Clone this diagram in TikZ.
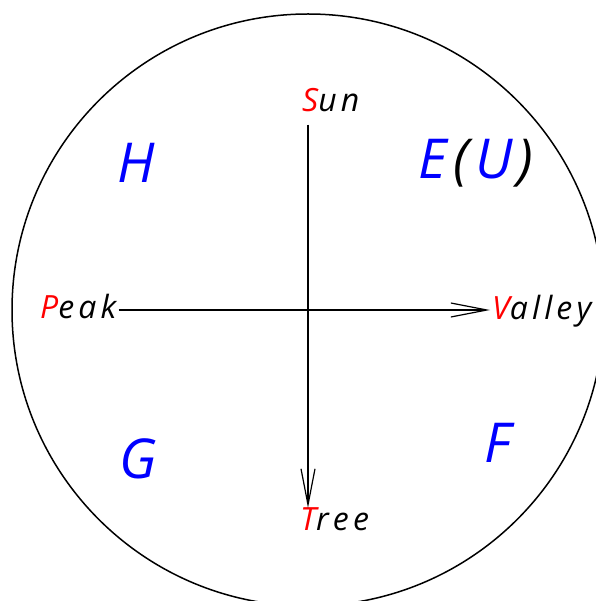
\documentclass[tikz,border=0pt]{standalone}
\usepackage{fontspec}
\setmainfont{Open Sans}
\usetikzlibrary{arrows.meta}
\definecolor{myred}{RGB}{255,0,0}
\definecolor{myblue}{RGB}{0,0,255}
\tikzset{
  lbl/.style={font=\fontsize{32}{36}\selectfont\itshape\addfontfeatures{LetterSpace=13}, inner sep=2pt, anchor=base west},
  big/.style={font=\fontsize{55}{60}\selectfont\itshape, text=myblue, inner sep=0pt, anchor=base west},
  axis/.style={line width=1.4pt, -{Straight Barb[length=36pt,width=14pt,line width=1.2pt]}},
}
\begin{document}
\begin{tikzpicture}[x=1pt,y=-1pt]
\useasboundingbox (0,0) rectangle (595,601);
\draw[line width=1.5pt] (308,310) circle[radius=296];
\node[lbl] (sun) at (300,112) {\textcolor{myred}{S}un};
\node[lbl] (tree) at (298,530) {\textcolor{myred}{T}ree};
\node[lbl] (peak) at (38,318) {\textcolor{myred}{P}eak};
\node[lbl] (valley) at (490,319) {\textcolor{myred}{V}alley};
\node[big] (h) at (117,183) {H};
\node[big] (eu) at (418,179) {E\hspace{7pt}\textcolor{black}{(}\hspace{6pt}U\hspace{5pt}\textcolor{black}{)}};
\node[big] (g) at (119,478) {G};
\node[big] (f) at (484,462) {F};
\coordinate (vt) at (308,125);
\coordinate (vb) at (308,497);
\coordinate (hl) at (122,310);
\coordinate (hr) at (491,310);
\draw[axis, shorten <=10pt, shorten >=-3pt] (sun.south -| vt) -- (tree.north -| vb);
\draw[axis] (peak.east |- hl) -- (valley.west |- hr);
\end{tikzpicture}
\end{document}
